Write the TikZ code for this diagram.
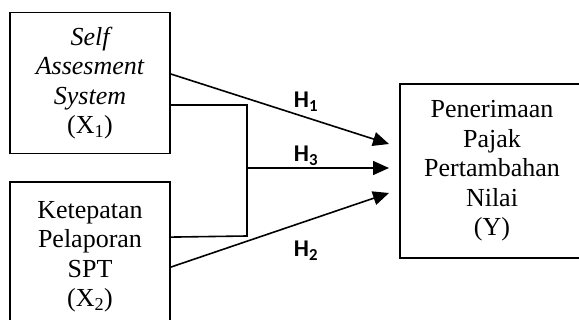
\documentclass[tikz,border=0pt]{standalone}
\usepackage{fontspec}
\setmainfont{Liberation Serif}
\newfontfamily\hfont{Carlito}
\usepackage{tikz}
\usetikzlibrary{positioning}
\usetikzlibrary{arrows.meta}
\tikzset{hyp/.style = {line width=1.6pt,-{Triangle[length=16pt,width=14pt]}}}

\begin{document}
\begin{tikzpicture}[x=1pt,y=-1pt,line width=1.6pt,
    var node/.style={draw,align=center,font=\fontsize{26}{29.5}\selectfont},
    hlabel/.style={anchor=base,font=\hfont\bfseries\fontsize{24}{24}\selectfont}]
                \useasboundingbox (0,0) rectangle (579,320);
                \node[var node, minimum width=160pt, minimum height=141pt] (x1) at (90,83) {\itshape Self\\\itshape Assesment\\\itshape System\\(X\textsubscript{1})};
                \node[var node, minimum width=160pt, minimum height=149pt] (x2) [below=27pt of x1] {Ketepatan\\Pelaporan\\SPT\\(X\textsubscript{2})};
                \node[var node, minimum width=184pt, minimum height=174pt] (y) at (492,171) {Penerimaan\\Pajak\\Pertambahan\\Nilai\\(Y)};

                \coordinate (jt) at (247,105);
                \coordinate (jb) at (247,236);
                \coordinate (jm) at (247,168);
                \coordinate (t1) at (389,144);
                \coordinate (t3) at (389,168);
                \coordinate (t2) at (389,193);

                \draw[hyp] ([yshift=9pt]x1.east) -- (t1);
                \draw ([yshift=-22pt]x1.east) -- (jt) -- (jb) -- ([yshift=19.5pt]x2.east);
                \draw[hyp] (jm) -- (t3);
                \draw[hyp] ([yshift=-10.5pt]x2.east) -- (t2);

                \node[hlabel] (h1) at (306,108) {H\textsubscript{1}};
                \node[hlabel] (h3) at (306,162) {H\textsubscript{3}};
                \node[hlabel] (h2) at (306,257) {H\textsubscript{2}};
            \end{tikzpicture}
\end{document}
